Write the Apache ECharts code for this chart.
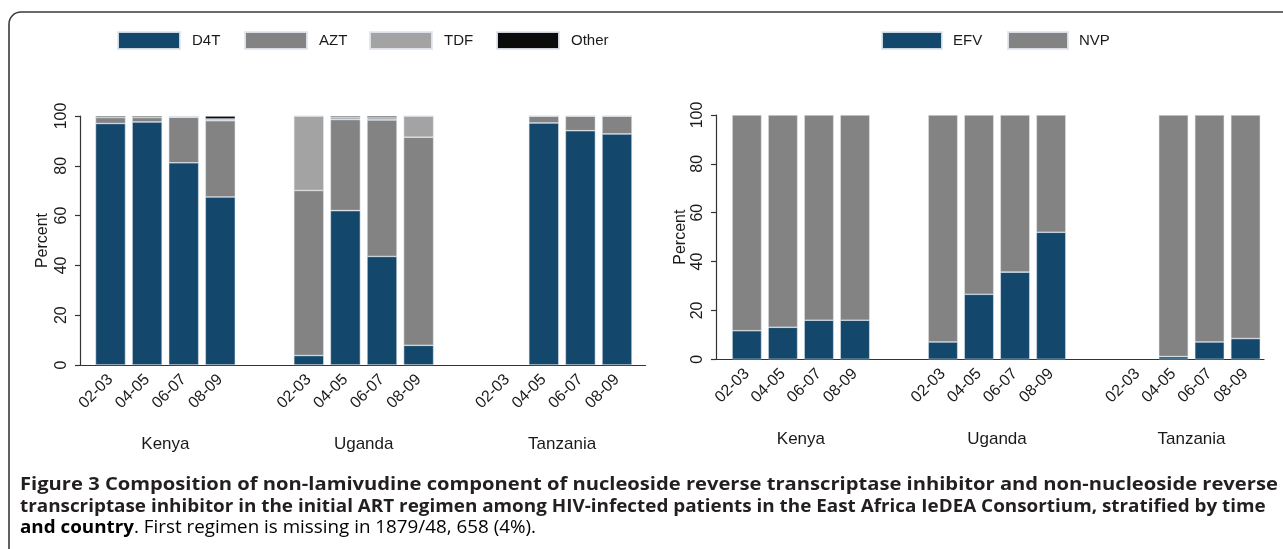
<!DOCTYPE html>
<html>
<head>
<meta charset="utf-8">
<script src="https://cdn.jsdelivr.net/npm/echarts@6/dist/echarts.min.js"></script>
<style>
html,body{margin:0;padding:0;background:#fff;}
#chart{width:1283px;height:549px;}
</style>
</head>
<body>
<div id="chart"></div>
<script>
// ---- data ----
const periods = ['02-03', '04-05', '06-07', '08-09'];
const countries = ['Kenya', 'Uganda', 'Tanzania'];
// NRTI component (per country: 02-03, 04-05, 06-07, 08-09)
const d4t   = [97.0, 97.6, 81.2, 67.5,   3.8, 62.0, 43.6,  7.9,   null, 97.2, 94.1, 92.8];
const azt   = [ 2.4,  1.8, 18.3, 30.6,  66.3, 36.6, 54.8, 83.6,   null,  2.8,  5.9,  7.2];
const tdf   = [ 0.0,  0.0,  0.2,  0.7,  29.9,  0.8,  0.9,  8.5,   null,  0.0,  0.0,  0.0];
const other = [ 0.6,  0.6,  0.3,  1.2,   0.0,  0.6,  0.7,  0.0,   null,  0.0,  0.0,  0.0];
// NNRTI component
const efv   = [11.7, 13.1, 16.0, 16.0,   7.1, 26.6, 35.7, 52.0,   null,  1.1,  7.1,  8.5];
const nvp   = [88.3, 86.9, 84.0, 84.0,  92.9, 73.4, 64.3, 48.0,   null, 98.9, 92.9, 91.5];
const yTicks = [0, 20, 40, 60, 80, 100];

const leftSeries  = [['D4T', d4t, '#13476c'], ['AZT', azt, '#838383'], ['TDF', tdf, '#a3a3a3'], ['Other', other, '#0b0b0b']];
const rightSeries = [['EFV', efv, '#13476c'], ['NVP', nvp, '#838383']];

const captionLines = [
  'Figure 3 Composition of non-lamivudine component of nucleoside reverse transcriptase inhibitor and non-nucleoside reverse',
  'transcriptase inhibitor in the initial ART regimen among HIV-infected patients in the East Africa IeDEA Consortium, stratified by time',
  '{b|and country}{n|. First regimen is missing in 1879/48, 658 (4%).}'
];

const FONT = 'Liberation Sans, Arial, sans-serif';
const TXT = '#1a1a1a';

// ---- layout ----
const panels = [
  { main: {left: 80,  top: 116, width: 565.5, height: 249},  groupLefts: [92.2, 290.5, 488.9], groupWidth: 146.4, barWidth: 30,
    series: leftSeries, legendLefts: [117, 244, 369, 496], legendBox: 62, legendPad: 7 },
  { main: {left: 716, top: 115, width: 548,   height: 244.3}, groupLefts: [728.8, 924.9, 1119.4], groupWidth: 144.2, barWidth: 29.5,
    series: rightSeries, legendLefts: [881, 1007], legendBox: 60, legendPad: 6 }
];

const grid = [], xAxis = [], yAxis = [], series = [], legend = [];
panels.forEach(function (p, pi) {
  const mainIdx = grid.length;
  grid.push({ left: p.main.left, top: p.main.top, width: p.main.width, height: p.main.height });
  xAxis.push({
    gridIndex: mainIdx, type: 'value', min: 0, max: 1, offset: 10,
    axisLine: { show: true, lineStyle: { color: '#333', width: 1.2 } },
    axisTick: { show: false }, axisLabel: { show: false }, splitLine: { show: false }
  });
  yAxis.push({
    gridIndex: mainIdx, type: 'value', min: 0, max: 100, interval: 20,
    axisLine: { show: true, lineStyle: { color: '#333', width: 1.2 } },
    axisTick: { show: true, length: 5, lineStyle: { color: '#333', width: 1.2 } },
    axisLabel: { rotate: 90, fontSize: 16, margin: 10, color: TXT, fontFamily: FONT,
      formatter: function (v) { return yTicks.indexOf(v) >= 0 ? String(v) : ''; } },
    splitLine: { show: false },
    name: 'Percent', nameLocation: 'middle', nameRotate: 90, nameGap: pi === 0 ? 29 : 27,
    nameTextStyle: { fontSize: 16, color: TXT, fontFamily: FONT }
  });
  countries.forEach(function (c, ci) {
    const gi = grid.length;
    grid.push({ left: p.groupLefts[ci], top: p.main.top, width: p.groupWidth, height: p.main.height });
    xAxis.push({
      gridIndex: gi, type: 'category', data: periods,
      axisLine: { show: false }, axisTick: { show: false },
      axisLabel: { interval: 0, rotate: 45, fontSize: 16, margin: 12, color: TXT, fontFamily: FONT },
      name: c, nameLocation: 'middle', nameGap: pi === 0 ? 71 : 72,
      nameTextStyle: { fontSize: 17, color: TXT, fontFamily: FONT }
    });
    yAxis.push({ gridIndex: gi, type: 'value', min: 0, max: 100, show: false });
    p.series.forEach(function (s) {
      series.push({
        type: 'bar', name: s[0], xAxisIndex: gi, yAxisIndex: gi,
        stack: 'p' + pi + 'c' + ci, barWidth: p.barWidth,
        itemStyle: { color: s[2], borderColor: 'rgba(225,232,238,0.9)', borderWidth: 0.6 },
        data: s[1].slice(ci * 4, ci * 4 + 4),
        emphasis: { disabled: true }
      });
    });
  });
  p.series.forEach(function (s, si) {
    legend.push({
      data: [s[0]], left: p.legendLefts[si], top: 31, padding: 0,
      icon: 'rect', itemWidth: p.legendBox, itemHeight: 17, selectedMode: false,
      textStyle: { fontSize: 15, color: TXT, fontFamily: FONT, padding: [0, 0, 0, p.legendPad] }
    });
  });
});

const captionFont = 'Open Sans';
const option = {
  animation: false,
  backgroundColor: '#fff',
  grid: grid, xAxis: xAxis, yAxis: yAxis, series: series, legend: legend,
  graphic: [
    { type: 'rect', silent: true, shape: { x: 9, y: 12, width: 1400, height: 700, r: 12 },
      style: { fill: 'none', stroke: '#3a3a3a', lineWidth: 1.6 } },
    { type: 'text', x: 20, y: 476, scaleX: 1.12, silent: true,
      style: { text: captionLines[0], x: 0, y: 0, font: 'bold 18px "' + captionFont + '"', fill: '#231f20' } },
    { type: 'text', x: 20, y: 498, scaleX: 1.048, silent: true,
      style: { text: captionLines[1], x: 0, y: 0, font: 'bold 18px "' + captionFont + '"', fill: '#231f20' } },
    { type: 'text', x: 20, y: 519, scaleX: 1.045, silent: true,
      style: { text: captionLines[2], x: 0, y: 0,
        rich: { b: { fontFamily: captionFont, fontWeight: 'bold', fontSize: 18, color: '#231f20' },
                n: { fontFamily: captionFont, fontWeight: 'normal', fontSize: 18, color: '#5a5a5a' } } } }
  ]
};

const chart = echarts.init(document.getElementById('chart'), null, { renderer: 'canvas' });
chart.setOption(option);
</script>
</body>
</html>
